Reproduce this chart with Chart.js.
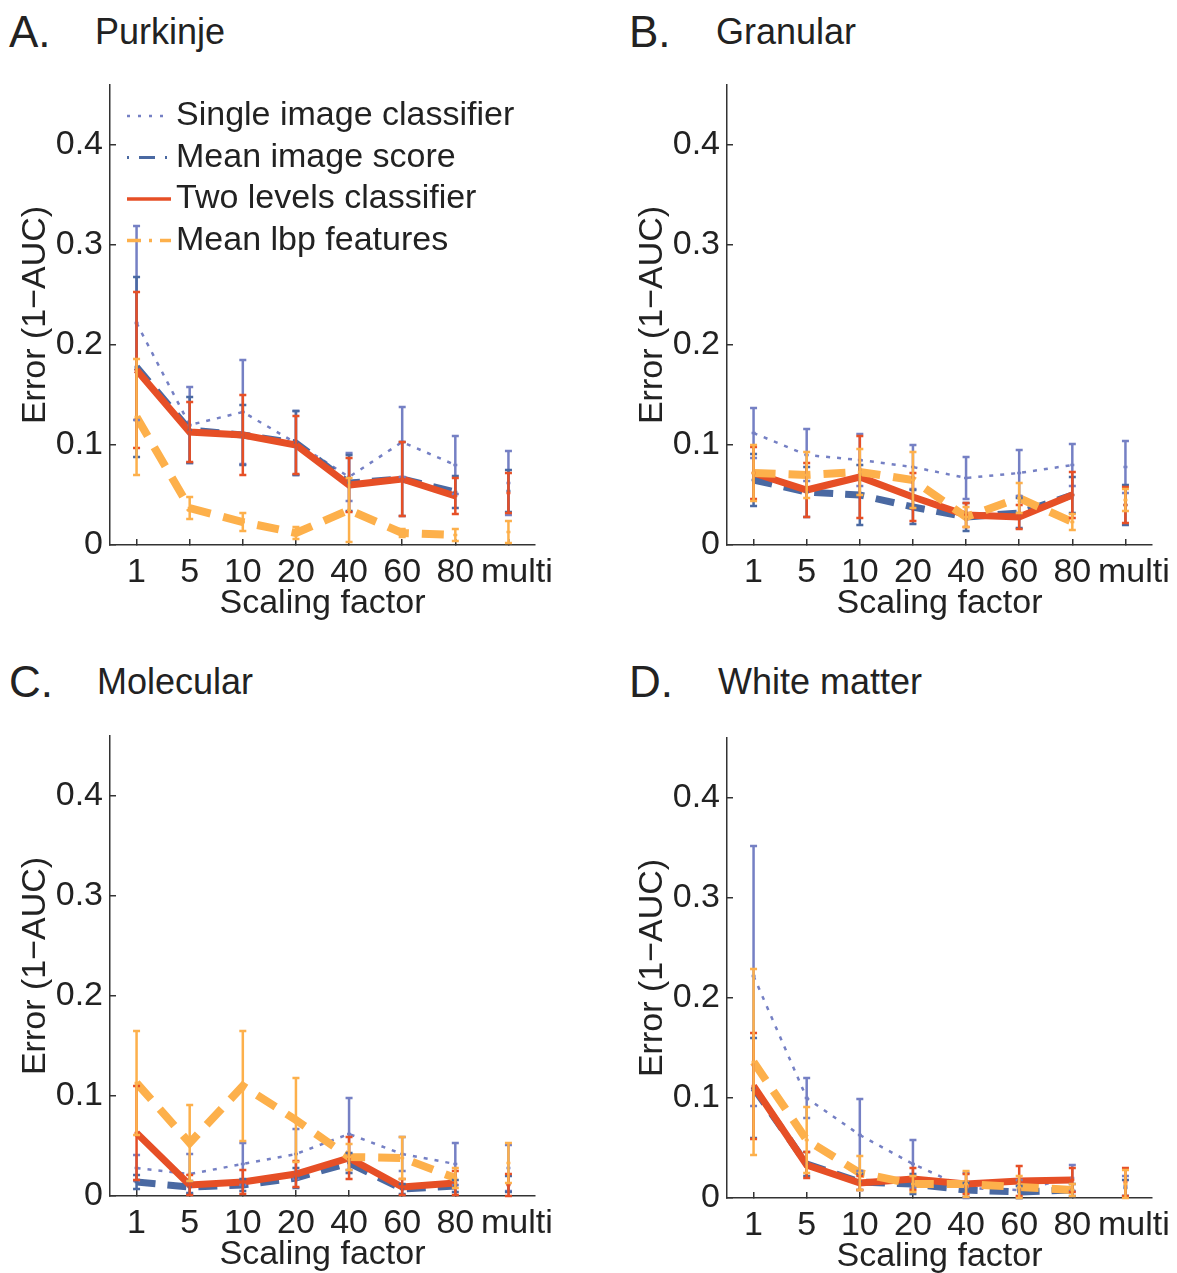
<!DOCTYPE html>
<html>
<head>
<meta charset="utf-8">
<script src="https://cdn.jsdelivr.net/npm/chart.js@4.4.1/dist/chart.umd.min.js"></script>
<style>
  body { margin: 0; background: #fff; font-family: "Liberation Sans", Arial, sans-serif; }
  #page { position: relative; width: 1177px; height: 1273px; }
  .panel { position: absolute; width: 560px; height: 640px; }
  .letter { position: absolute; font-size: 44px; color: #222; line-height: 1; }
  .name { position: absolute; font-size: 36px; color: #222; line-height: 1; }
</style>
</head>
<body>
<div id="page">
  <div class="letter" style="left:9px;top:10px">A.</div>
  <div class="name" style="left:95px;top:14px">Purkinje</div>
  <div class="letter" style="left:629px;top:10px">B.</div>
  <div class="name" style="left:716px;top:14px">Granular</div>
  <div class="letter" style="left:9px;top:660px">C.</div>
  <div class="name" style="left:97px;top:664px">Molecular</div>
  <div class="letter" style="left:629px;top:660px">D.</div>
  <div class="name" style="left:718px;top:664px">White matter</div>

  <div class="panel" style="left:0px;top:0px"><canvas id="chartA" width="560" height="640"></canvas></div>
  <div class="panel" style="left:617px;top:0px"><canvas id="chartB" width="560" height="640"></canvas></div>
  <div class="panel" style="left:0px;top:651px"><canvas id="chartC" width="560" height="640"></canvas></div>
  <div class="panel" style="left:617px;top:653px"><canvas id="chartD" width="560" height="640"></canvas></div>
</div>
<script>
const scalingLabels = ['1', '5', '10', '20', '40', '60', '80', 'multi'];
const seriesNames = ['Single image classifier', 'Mean image score', 'Two levels classifier', 'Mean lbp features'];
const yTicks = [0, 0.1, 0.2, 0.3, 0.4];

// A. Purkinje
const purkinjeSingle = [0.222, 0.120, 0.133, 0.102, 0.068, 0.103, 0.080, 0.062];
const purkinjeSingleErr = [0.097, 0.038, 0.052, 0.032, 0.024, 0.035, 0.029, 0.032];
const purkinjeMean = [0.178, 0.115, 0.110, 0.102, 0.062, 0.066, 0.053, 0.054];
const purkinjeMeanErr = [0.090, 0.033, 0.030, 0.032, 0.028, 0.037, 0.016, 0.021];
const purkinjeTwo = [0.175, 0.113, 0.110, 0.100, 0.060, 0.066, 0.049, 0.052];
const purkinjeTwoErr = [0.078, 0.030, 0.040, 0.029, 0.027, 0.037, 0.018, 0.020];
const purkinjeLbp = [0.128, 0.037, 0.023, 0.012, 0.035, 0.012, 0.010, 0.013];
const purkinjeLbpErr = [0.058, 0.011, 0.009, 0.006, 0.032, 0.004, 0.006, 0.011];

// B. Granular
const granularSingle = [0.112, 0.090, 0.085, 0.078, 0.067, 0.072, 0.080, 0.078];
const granularSingleErr = [0.025, 0.026, 0.026, 0.022, 0.021, 0.023, 0.021, 0.026];
const granularMean = [0.065, 0.053, 0.050, 0.038, 0.028, 0.032, 0.050, 0.040];
const granularMeanErr = [0.026, 0.025, 0.030, 0.017, 0.014, 0.015, 0.018, 0.020];
const granularTwo = [0.072, 0.055, 0.068, 0.048, 0.030, 0.028, 0.050, 0.040];
const granularTwoErr = [0.026, 0.027, 0.041, 0.024, 0.012, 0.012, 0.023, 0.018];
const granularLbp = [0.072, 0.070, 0.073, 0.065, 0.028, 0.047, 0.023, 0.045];
const granularLbpErr = [0.028, 0.023, 0.023, 0.028, 0.010, 0.015, 0.008, 0.011];

// C. Molecular
const molecularSingle = [0.028, 0.022, 0.032, 0.042, 0.062, 0.042, 0.032, 0.028];
const molecularSingleErr = [0.013, 0.020, 0.021, 0.025, 0.036, 0.017, 0.021, 0.023];
const molecularMean = [0.014, 0.009, 0.011, 0.018, 0.033, 0.007, 0.010, 0.012];
const molecularMeanErr = [0.007, 0.006, 0.006, 0.010, 0.010, 0.005, 0.006, 0.008];
const molecularTwo = [0.063, 0.011, 0.014, 0.022, 0.038, 0.009, 0.013, 0.011];
const molecularTwoErr = [0.047, 0.010, 0.012, 0.013, 0.021, 0.008, 0.012, 0.011];
const molecularLbp = [0.113, 0.053, 0.110, 0.076, 0.039, 0.038, 0.018, 0.033];
const molecularLbpErr = [0.052, 0.038, 0.055, 0.042, 0.013, 0.021, 0.010, 0.020];

// D. White matter
const whiteSingle = [0.222, 0.100, 0.063, 0.034, 0.010, 0.008, 0.020, 0.012];
const whiteSingleErr = [0.130, 0.020, 0.036, 0.024, 0.015, 0.010, 0.013, 0.010];
const whiteMean = [0.110, 0.034, 0.016, 0.014, 0.008, 0.006, 0.008, 0.010];
const whiteMeanErr = [0.050, 0.012, 0.008, 0.010, 0.007, 0.006, 0.006, 0.008];
const whiteTwo = [0.112, 0.033, 0.015, 0.019, 0.014, 0.017, 0.018, 0.016];
const whiteTwoErr = [0.053, 0.013, 0.007, 0.011, 0.010, 0.015, 0.012, 0.014];
const whiteLbp = [0.136, 0.058, 0.025, 0.014, 0.014, 0.011, 0.008, 0.014];
const whiteLbpErr = [0.093, 0.033, 0.017, 0.008, 0.013, 0.011, 0.006, 0.014];

const seriesStyles = [
    { color: '#7580c4', width: 2.5, dash: [4, 7], legendWidth: 2.5, legendDash: [3, 8] },
    { color: '#4a69a2', width: 7, dash: [19, 12], legendWidth: 3, legendDash: [2, 10, 16, 10] },
    { color: '#e64f26', width: 7, dash: [], legendWidth: 3.5, legendDash: [] },
    { color: '#fdb04b', width: 8, dash: [22, 13], legendWidth: 3.5, legendDash: [14, 8, 3, 8] },
];
const FONT = '"Liberation Sans", Arial, sans-serif';
const TEXT_SIZE = 34;

const errorBarPlugin = {
    id: 'errorBars',
    afterDatasetsDraw(chart) {
        const { ctx } = chart;
        const yScale = chart.scales.y;
        chart.data.datasets.forEach((ds, i) => {
            const meta = chart.getDatasetMeta(i);
            ctx.save();
            ctx.strokeStyle = ds.borderColor;
            ctx.lineWidth = 2.5;
            ctx.setLineDash([]);
            meta.data.forEach((pt, j) => {
                const v = ds.data[j], e = ds.errors[j];
                const top = yScale.getPixelForValue(v + e);
                const bot = yScale.getPixelForValue(Math.max(0, v - e));
                const x = pt.x;
                ctx.beginPath();
                ctx.moveTo(x, top); ctx.lineTo(x, bot);
                ctx.moveTo(x - 3.5, top); ctx.lineTo(x + 3.5, top);
                ctx.moveTo(x - 3.5, bot); ctx.lineTo(x + 3.5, bot);
                ctx.moveTo(x - 2, yScale.getPixelForValue(v)); ctx.lineTo(x + 2, yScale.getPixelForValue(v));
                ctx.stroke();
            });
            ctx.restore();
        });
    }
};

const insideLegendPlugin = {
    id: 'insideLegend',
    afterDraw(chart, args, opts) {
        if (!opts.show) return;
        const { ctx, chartArea } = chart;
        ctx.save();
        seriesNames.forEach((name, i) => {
            const st = seriesStyles[i];
            const y = chartArea.top + 31 + i * 41.5;
            ctx.strokeStyle = st.color;
            ctx.lineWidth = st.legendWidth;
            ctx.setLineDash(st.legendDash);
            ctx.beginPath();
            ctx.moveTo(chartArea.left + 17, y);
            ctx.lineTo(chartArea.left + 61, y);
            ctx.stroke();
            ctx.setLineDash([]);
            ctx.fillStyle = '#222';
            ctx.font = TEXT_SIZE + 'px ' + FONT;
            ctx.textBaseline = 'middle';
            ctx.fillText(name, chartArea.left + 66, y);
        });
        ctx.restore();
    }
};

function makePanel(canvasId, series, showLegend) {
    const datasets = series.map(([values, errs], i) => {
        const st = seriesStyles[i];
        return {
            label: seriesNames[i],
            data: values,
            errors: errs,
            borderColor: st.color,
            borderWidth: st.width,
            borderDash: st.dash,
            pointRadius: 0,
            tension: 0,
            order: 4 - i,
            segment: {
                // "multi" is not joined to the other scaling factors
                borderColor: ctx => ctx.p1DataIndex === 7 ? 'rgba(0,0,0,0)' : st.color,
            },
        };
    });
    return new Chart(document.getElementById(canvasId), {
        type: 'line',
        data: { labels: scalingLabels, datasets },
        options: {
            responsive: false,
            animation: false,
            layout: { padding: { top: 85, right: 25, bottom: 15, left: 0 } },
            plugins: {
                legend: { display: false },
                tooltip: { enabled: false },
                insideLegend: { show: showLegend },
            },
            scales: {
                x: {
                    type: 'category',
                    offset: true,
                    afterFit: scale => {
                        scale.height = 80;
                        scale.paddingLeft = 0;
                        scale.paddingRight = 0;
                    },
                    border: { display: true, color: '#333', width: 1.5 },
                    grid: { display: true, drawOnChartArea: false, drawTicks: true, tickLength: -6, color: '#333', lineWidth: 1.5 },
                    ticks: {
                        color: '#222', font: { family: FONT, size: TEXT_SIZE }, padding: 13, maxRotation: 0, autoSkip: false,
                        // the last label sits a little right of its tick in the original
                        callback: (v, i) => i === scalingLabels.length - 1 ? '\u2002' + scalingLabels[i] : scalingLabels[i],
                    },
                    title: { display: true, text: 'Scaling factor', color: '#222', font: { family: FONT, size: TEXT_SIZE }, padding: { top: 0, bottom: 1 } },
                },
                y: {
                    type: 'linear',
                    min: 0,
                    max: 0.46,
                    afterFit: scale => { scale.width = 110; },
                    afterBuildTicks: scale => { scale.ticks = yTicks.map(v => ({ value: v })); },
                    border: { display: true, color: '#333', width: 1.5 },
                    grid: { display: true, drawOnChartArea: false, drawTicks: true, tickLength: -6, color: '#333', lineWidth: 1.5 },
                    ticks: {
                        color: '#222', font: { family: FONT, size: TEXT_SIZE }, padding: 13,
                        callback: v => v === 0 ? '0' : v.toFixed(1),
                    },
                    title: { display: true, text: 'Error (1\u2212AUC)', color: '#222', font: { family: FONT, size: TEXT_SIZE }, padding: { top: 15, bottom: 0 } },
                },
            },
        },
        plugins: [errorBarPlugin, insideLegendPlugin],
    });
}

makePanel('chartA', [
    [purkinjeSingle, purkinjeSingleErr], [purkinjeMean, purkinjeMeanErr],
    [purkinjeTwo, purkinjeTwoErr], [purkinjeLbp, purkinjeLbpErr]], true);
makePanel('chartB', [
    [granularSingle, granularSingleErr], [granularMean, granularMeanErr],
    [granularTwo, granularTwoErr], [granularLbp, granularLbpErr]], false);
makePanel('chartC', [
    [molecularSingle, molecularSingleErr], [molecularMean, molecularMeanErr],
    [molecularTwo, molecularTwoErr], [molecularLbp, molecularLbpErr]], false);
makePanel('chartD', [
    [whiteSingle, whiteSingleErr], [whiteMean, whiteMeanErr],
    [whiteTwo, whiteTwoErr], [whiteLbp, whiteLbpErr]], false);
</script>
</body>
</html>
